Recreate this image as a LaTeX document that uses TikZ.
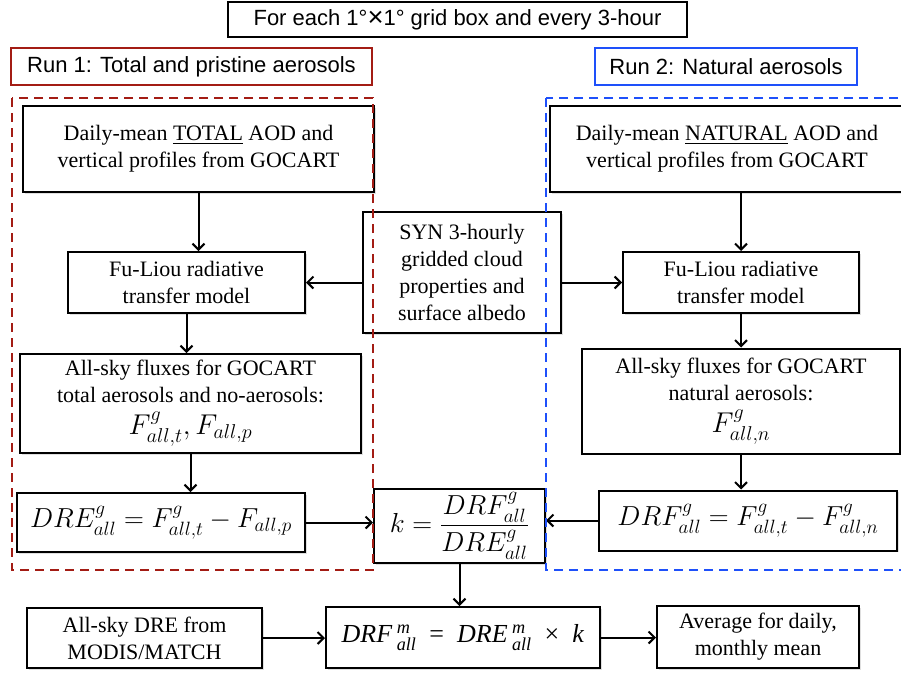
\RequirePackage{fix-cm}
\documentclass[tikz,border=0pt]{standalone}
\usepackage{amsmath}
\usepackage{graphicx}
\usepackage{fontspec}
\setmainfont{Liberation Serif}
\newfontfamily\hel{Liberation Sans}
\usetikzlibrary{arrows.meta,shadows}
\definecolor{runred}{RGB}{163,28,20}
\definecolor{runblue}{RGB}{30,80,250}
\newcommand{\fml}[2][1.25]{\scalebox{#1}{$#2$}}
\tikzset{
  box/.style={draw, line width=2pt, fill=white, align=center, inner sep=0pt,
    drop shadow={shadow xshift=1.5pt, shadow yshift=-1.5pt, opacity=0.25},
    font=\fontsize{22}{27}\selectfont},
  runlabel/.style={draw, line width=2pt, inner sep=0pt, font=\hel\fontsize{22}{26}\selectfont},
  flow/.style={-{Straight Barb[length=6pt,width=12pt]}, line width=2pt},
  frame/.style={line width=2.5pt, dash pattern=on 9pt off 6pt}
}
\begin{document}
\begin{tikzpicture}[x=1pt,y=-1pt]
\useasboundingbox (0,0) rectangle (901,675);
% headings
\node[runlabel, minimum width=459, minimum height=35] (title) at (457.5,19.5)
  {For each 1\textdegree\raisebox{-0.04em}{\scalebox{1.25}{×}}1\textdegree{} grid box and every 3-hour};
\node[runlabel, draw=runred, minimum width=361, minimum height=37] (run1) at (191.5,66.5) {Run 1: Total and pristine aerosols};
\node[runlabel, draw=runblue, minimum width=262, minimum height=37] (run2) at (726,66.5) {Run 2: Natural aerosols};
% run 1
\node[box, minimum width=351, minimum height=86] (a1) at (198.5,149)
  {Daily-mean \underline{TOTAL} AOD and\\vertical profiles from GOCART};
\node[box, minimum width=237, minimum height=61] (fuL) at (186.5,282.5) {Fu-Liou radiative\\transfer model};
\node[box, minimum width=341, minimum height=99] (allL) at (190.5,403.5)
  {All-sky fluxes for GOCART\\total aerosols and no-aerosols:\\[5pt] \fml[1.3]{F^g_{all,t}, F_{all,p}}};
\node[box, minimum width=288, minimum height=59] (dreL) at (161,522.5) {\fml{DRE^g_{all} = F^g_{all,t} - F_{all,p}}};
% shared
\node[box, minimum width=198, minimum height=121] (syn) at (462,272.5)
  {SYN 3-hourly\\gridded cloud\\properties and\\surface albedo};
\node[box, minimum width=171, minimum height=74] (k) at (459.5,526) {\fml{k = \dfrac{DRF^g_{all}}{DRE^g_{all}}}};
% run 2
\node[box, minimum width=354, minimum height=86] (a2) at (727,149)
  {Daily-mean \underline{NATURAL} AOD and\\vertical profiles from GOCART};
\node[box, minimum width=236, minimum height=61] (fuR) at (741,282.5) {Fu-Liou radiative\\transfer model};
\node[box, minimum width=318, minimum height=105] (allR) at (741,401)
  {All-sky fluxes for GOCART\\natural aerosols:\\[5pt] \fml[1.3]{F^g_{all,n}}};
\node[box, minimum width=298, minimum height=60] (drfR) at (748,520.5) {\fml{DRF^g_{all} = F^g_{all,t} - F^g_{all,n}}};
% bottom row
\node[box, minimum width=235, minimum height=60] (modis) at (144.5,638) {All-sky DRE from\\MODIS/MATCH};
\node[box, minimum width=274, minimum height=61, font=\fontsize{26}{30}\selectfont] (drfm) at (463,637.5)
  {\textit{DRF}\,$^{\textit{m}}_{\textit{all}}$\enspace=\enspace\textit{DRE}\,$^{\textit{m}}_{\textit{all}}$\enspace×\enspace\textit{k}};
\node[box, minimum width=202, minimum height=62] (avg) at (758,637) {Average for daily,\\monthly mean};
% connectors
\draw[flow] (a1.south) -- (a1.south |- fuL.north);
\draw[flow] (fuL.south) -- (fuL.south |- allL.north);
\draw[flow] (allL.south) -- (allL.south |- dreL.north);
\draw[flow] (syn.west |- fuL.east) -- (fuL.east);
\draw[flow] (syn.east |- fuR.west) -- (fuR.west);
\draw[flow] (fuR.north |- a2.south) -- (fuR.north);
\draw[flow] (fuR.south) -- (fuR.south |- allR.north);
\draw[flow] (allR.south) -- (allR.south |- drfR.north);
\draw[flow] (dreL.east) -- (dreL.east -| k.west);
\draw[flow] (drfR.west) -- (drfR.west -| k.east);
\draw[flow] (k.south) -- (k.south |- drfm.north);
\draw[flow] (modis.east) -- (modis.east -| drfm.west);
\draw[flow] (drfm.east) -- (drfm.east -| avg.west);
% run frames
\draw[frame, runred] (12,98) rectangle (373,570);
\draw[frame, runblue] (546,98) rectangle (910,570);
\end{tikzpicture}
\end{document}
